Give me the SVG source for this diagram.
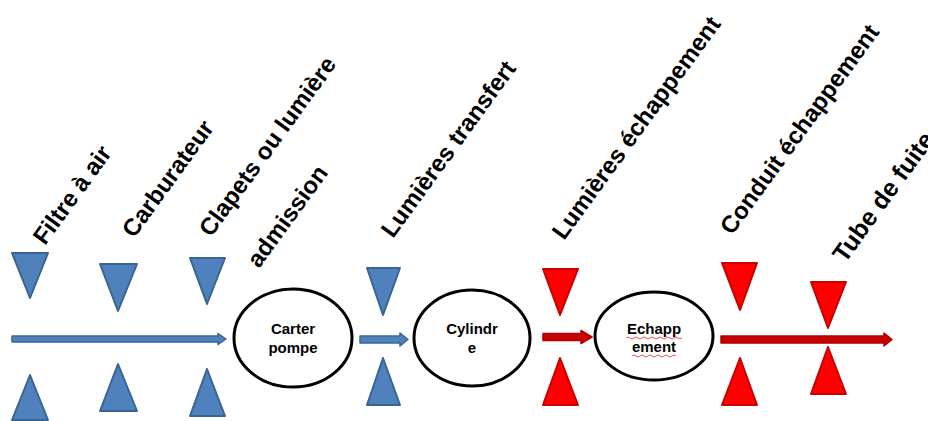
<svg xmlns="http://www.w3.org/2000/svg" width="928" height="421" viewBox="0 0 928 421">
<style>
.lbl{font-family:"Liberation Sans",Arial,sans-serif;font-weight:bold;font-size:24px;fill:#000}
.nt{font-family:"Liberation Sans",Arial,sans-serif;font-weight:bold;font-size:15px;fill:#000;text-anchor:middle}
.node{fill:#fff;stroke:#000;stroke-width:3}
.tb{fill:#4F81BD;stroke:#3A6593;stroke-width:2;stroke-linejoin:round}
.tr{fill:#FF0000;stroke:#C80000;stroke-width:2;stroke-linejoin:round}
.ab{fill:#4F81BD;stroke:#3A6593;stroke-width:1.5;stroke-linejoin:round}
.ar{fill:#C80000;stroke:#B00000;stroke-width:1.5;stroke-linejoin:round}
.sq{fill:none;stroke:#E05050;stroke-width:1}
</style>
<rect width="928" height="421" fill="#fff"/>
<g id="labels">
<text class="lbl" transform="translate(45,246) rotate(-54)">Filtre à air</text>
<text class="lbl" transform="translate(134,239) rotate(-54)">Carburateur</text>
<text class="lbl" transform="translate(211,238) rotate(-54)">Clapets ou lumière</text>
<text class="lbl" transform="translate(259,269) rotate(-54)">admission</text>
<text class="lbl" transform="translate(393,239) rotate(-54)">Lumières transfert</text>
<text class="lbl" transform="translate(564,241) rotate(-54)">Lumières échappement</text>
<text class="lbl" transform="translate(732,236) rotate(-54)" textLength="252">Conduit échappement</text>
<text class="lbl" transform="translate(845,264) rotate(-54)" style="font-size:25px">Tube de fuite</text>
</g>
<g id="valves">
<polygon class="tb" points="12,253 48,253 30,298"/>
<polygon class="tb" points="100,264 137,264 118,311"/>
<polygon class="tb" points="190,258 225,258 207,304"/>
<polygon class="tb" points="30,375 12,420 48,420"/>
<polygon class="tb" points="118,364 100,411 137,411"/>
<polygon class="tb" points="207,369 190,416 225,416"/>
<polygon class="tb" points="367,268 400,268 383,315"/>
<polygon class="tb" points="383,358 367,405 400,405"/>
<polygon class="tr" points="543,269 578,269 560,315"/>
<polygon class="tr" points="560,358 543,405 578,405"/>
<polygon class="tr" points="722,263 757,263 740,310"/>
<polygon class="tr" points="740,358 722,405 757,405"/>
<polygon class="tr" points="811,282 846,282 828,328"/>
<polygon class="tr" points="828,347 811,394 846,394"/>
</g>
<g id="connectors">
<path class="ab" d="M12,336 L218,336 L218,333.5 L226,339 L218,344.5 L218,342 L12,342 Z"/>
<path class="ab" d="M360,336 L400,336 L400,333 L408,339.5 L400,346 L400,343 L360,343 Z"/>
<path class="ar" d="M543,333.5 L581,333.5 L581,330.5 L592,337 L581,343.5 L581,340.5 L543,340.5 Z"/>
<path class="ar" d="M721,336 L884,336 L884,333 L892,339.5 L884,346 L884,343 L721,343 Z"/>
</g>
<g id="carter">
<ellipse class="node" cx="293" cy="338" rx="59" ry="49"/>
<text class="nt" x="293" y="334">Carter</text>
<text class="nt" x="293" y="353">pompe</text>
</g>
<g id="cylindre">
<ellipse class="node" cx="472" cy="338" rx="58" ry="48"/>
<text class="nt" x="472" y="334">Cylindr</text>
<text class="nt" x="472" y="353">e</text>
</g>
<g id="echappement">
<ellipse class="node" cx="654" cy="336" rx="59" ry="44"/>
<text class="nt" x="654" y="334">Echapp</text>
<text class="nt" x="654" y="352">ement</text>
<path class="sq" d="M626,338 q2,-2 4,0 t4,0 t4,0 t4,0 t4,0 t4,0 t4,0 t4,0 t4,0 t4,0 t4,0 t4,0 t4,0 t4,0"/>
<path class="sq" d="M632,356 q2,-2 4,0 t4,0 t4,0 t4,0 t4,0 t4,0 t4,0 t4,0 t4,0 t4,0 t4,0"/>
</g>
</svg>
